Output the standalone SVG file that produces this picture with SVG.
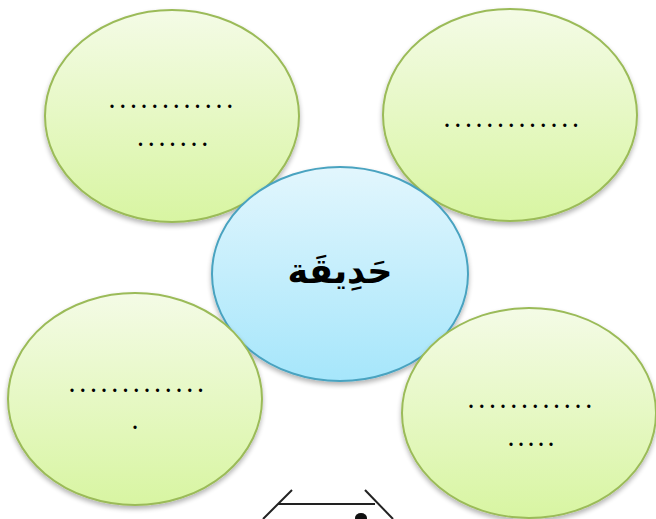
<svg xmlns="http://www.w3.org/2000/svg" width="656" height="519" viewBox="0 0 656 519">
<defs>
<linearGradient id="gG" x1="0" y1="0" x2="0" y2="1">
<stop offset="0" stop-color="#f4fbe6"/>
<stop offset="1" stop-color="#d8f5a2"/>
</linearGradient>
<linearGradient id="gB" x1="0" y1="0" x2="0" y2="1">
<stop offset="0" stop-color="#e2f6fd"/>
<stop offset="1" stop-color="#a6e6fb"/>
</linearGradient>
<filter id="sh" x="-10%" y="-10%" width="120%" height="125%">
<feGaussianBlur in="SourceAlpha" stdDeviation="2.5"/>
<feOffset dx="0" dy="3" result="b"/>
<feComponentTransfer><feFuncA type="linear" slope="0.3"/></feComponentTransfer>
<feMerge><feMergeNode/><feMergeNode in="SourceGraphic"/></feMerge>
</filter>
</defs>
<style>
.g{fill:url(#gG);stroke:#9bbb59;stroke-width:2;filter:url(#sh)}
.b{fill:url(#gB);stroke:#4aa3c0;stroke-width:2;filter:url(#sh)}
.d{font-family:"Liberation Serif",serif;font-size:20px;font-weight:bold;letter-spacing:5.7px;fill:#000}
.ar{font-family:"DejaVu Sans",sans-serif;font-size:35px;font-weight:bold;fill:#000}
.ln{stroke:#222;fill:none}
</style>
<rect width="656" height="519" fill="#fff"/>
<g id="n-topleft">
<ellipse class="g" cx="172" cy="116" rx="127" ry="106"/>
<text class="d" x="109.5" y="108">............</text>
<text class="d" x="138" y="146">.......</text>
</g>
<g id="n-topright">
<ellipse class="g" cx="510" cy="115" rx="127" ry="106"/>
<text class="d" x="444.5" y="127">.............</text>
</g>
<g id="n-center">
<ellipse class="b" cx="340" cy="274" rx="128" ry="107"/>
<text class="ar" x="340" y="283" text-anchor="middle" direction="rtl">حَدِيقَة</text>
</g>
<g id="n-bottomleft">
<ellipse class="g" cx="135" cy="399" rx="127" ry="106"/>
<text class="d" x="69.5" y="392">.............</text>
<text class="d" x="132.5" y="429">.</text>
</g>
<g id="n-bottomright">
<ellipse class="g" cx="529" cy="413" rx="127" ry="105"/>
<text class="d" x="468.5" y="408">............</text>
<text class="d" x="508.5" y="446" style="letter-spacing:5px">.....</text>
</g>
<g id="bottom-shape">
<path class="ln" d="M292 490 L263 519" stroke-width="2"/>
<path class="ln" d="M365 490 L393 519" stroke-width="2"/>
<path class="ln" d="M278 504 L375 504" stroke-width="2"/>
<ellipse cx="361" cy="518" rx="6" ry="5" fill="#111"/>
</g>
</svg>
